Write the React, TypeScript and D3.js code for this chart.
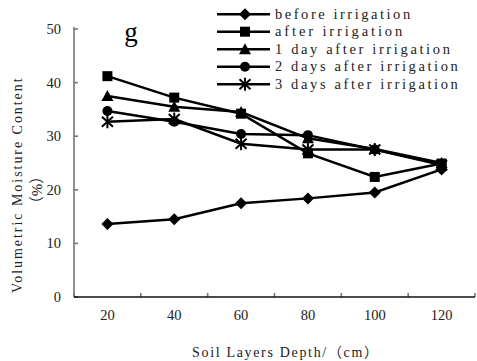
import * as d3 from 'd3';

const depths = ['20', '40', '60', '80', '100', '120'];
const seriesNames = [
  'before irrigation',
  'after irrigation',
  '1 day after irrigation',
  '2 days after irrigation',
  '3 days after irrigation',
];
const beforeIrrigation = [13.6, 14.5, 17.5, 18.4, 19.5, 23.8];
const afterIrrigation = [41.2, 37.2, 34.2, 26.8, 22.4, 24.9];
const day1After = [37.5, 35.5, 34.5, 29.6, 27.6, 25.0];
const day2After = [34.7, 32.7, 30.4, 30.2, 27.5, 24.8];
const day3After = [32.7, 33.2, 28.6, 27.5, 27.5, 24.6];
const yTicks = [0, 10, 20, 30, 40, 50];

const allSeries = [beforeIrrigation, afterIrrigation, day1After, day2After, day3After];
const markers = ['diamond', 'square', 'triangle', 'circle', 'asterisk'];

const W = 477;
const H = 361;
const left = 74, right = 475, top = 29, bottom = 297;
const CH = 7.95; // char width of the monospaced serif text in the original

function Marker({ type, x, y }: { type: string; x: number; y: number }) {
  if (type === 'diamond') {
    const s = 6;
    return <path d={`M${x},${y - s}L${x + s},${y}L${x},${y + s}L${x - s},${y}Z`} fill="#000" />;
  }
  if (type === 'square') {
    return <rect x={x - 5} y={y - 5} width={10} height={10} fill="#000" />;
  }
  if (type === 'triangle') {
    return <path d={`M${x},${y - 6}L${x + 6},${y + 5}L${x - 6},${y + 5}Z`} fill="#000" />;
  }
  if (type === 'circle') {
    return <circle cx={x} cy={y} r={5} fill="#000" />;
  }
  // asterisk: X with vertical bar
  return (
    <g stroke="#000" strokeWidth={2}>
      <line x1={x - 5.5} y1={y - 5} x2={x + 5.5} y2={y + 5} />
      <line x1={x - 5.5} y1={y + 5} x2={x + 5.5} y2={y - 5} />
      <line x1={x} y1={y - 6.5} x2={x} y2={y + 6.5} />
    </g>
  );
}

export default function App() {
  const x = d3.scaleBand<string>().domain(depths).range([left, right]).padding(0);
  const y = d3.scaleLinear().domain([0, 50]).range([bottom, top]);
  const cx = (d: string) => (x(d) as number) + x.bandwidth() / 2;

  const line = d3
    .line<number>()
    .x((_, i) => cx(depths[i]))
    .y((v) => y(v));

  const edges = depths.map((d) => x(d) as number).concat([right]);
  const serif = "'Liberation Serif', 'DejaVu Serif', serif";
  const cjk = "'Liberation Serif', 'Noto Sans CJK SC', serif";

  const xTitle = 'Soil Layers Depth/（cm）';
  const yTitle = 'Volumetric Moisture Content';

  return (
    <svg width={W} height={H} style={{ position: 'absolute', left: 0, top: 0, background: '#fff' }}>
      <rect width={W} height={H} fill="#fff" />
      {/* axes */}
      <g stroke="#777" strokeWidth={1.6}>
        <line x1={left} y1={top - 2} x2={left} y2={bottom} />
        {yTicks.map((t) => (
          <line key={t} x1={left} y1={y(t)} x2={left + 4} y2={y(t)} />
        ))}
        {edges.map((e, i) => (
          <line key={i} x1={e} y1={bottom} x2={e} y2={bottom - 4} />
        ))}
      </g>
      <line x1={left} y1={bottom} x2={right} y2={bottom} stroke="#111" strokeWidth={1.5} />
      <g fontFamily={serif} fontSize={14.5} fill="#222">
        {yTicks.map((t) => (
          <text key={t} x={left - 13} y={y(t) + 5} textAnchor="end">
            {t}
          </text>
        ))}
        {depths.map((d) => (
          <text key={d} x={cx(d)} y={bottom + 23} textAnchor="middle">
            {d}
          </text>
        ))}
      </g>
      {/* titles */}
      <text
        x={192}
        y={357}
        fontFamily={cjk}
        fontSize={14}
        fill="#222"
        textLength={186}
        lengthAdjust="spacing"
      >
        {xTitle}
      </text>
      <text
        transform={`translate(21.5,293) rotate(-90)`}
        fontFamily={serif}
        fontSize={14}
        fill="#222"
        textLength={yTitle.length * CH}
        lengthAdjust="spacing"
      >
        {yTitle}
      </text>
      <text
        transform={`translate(41.5,190) rotate(-90)`}
        fontFamily={cjk}
        fontSize={15}
        fill="#222"
        textAnchor="middle"
      >
        （%）
      </text>
      <text x={131} y={41} textAnchor="middle" fontFamily={serif} fontSize={27} fill="#000">
        g
      </text>
      {/* series */}
      {allSeries.map((s, si) => (
        <g key={si}>
          <path d={line(s) || ''} fill="none" stroke="#000" strokeWidth={2.5} />
          {s.map((v, i) => (
            <Marker key={i} type={markers[si]} x={cx(depths[i])} y={y(v)} />
          ))}
        </g>
      ))}
      {/* legend */}
      {seriesNames.map((name, i) => {
        const ly = 14.2 + i * 17.5;
        return (
          <g key={name}>
            <line x1={217} y1={ly} x2={270} y2={ly} stroke="#000" strokeWidth={2.5} />
            <Marker type={markers[i]} x={245} y={ly} />
            <text
              x={275}
              y={ly + 4.5}
              fontFamily={serif}
              fontSize={14.5}
              fill="#222"
              textLength={name.length * CH}
              lengthAdjust="spacing"
            >
              {name}
            </text>
          </g>
        );
      })}
    </svg>
  );
}
